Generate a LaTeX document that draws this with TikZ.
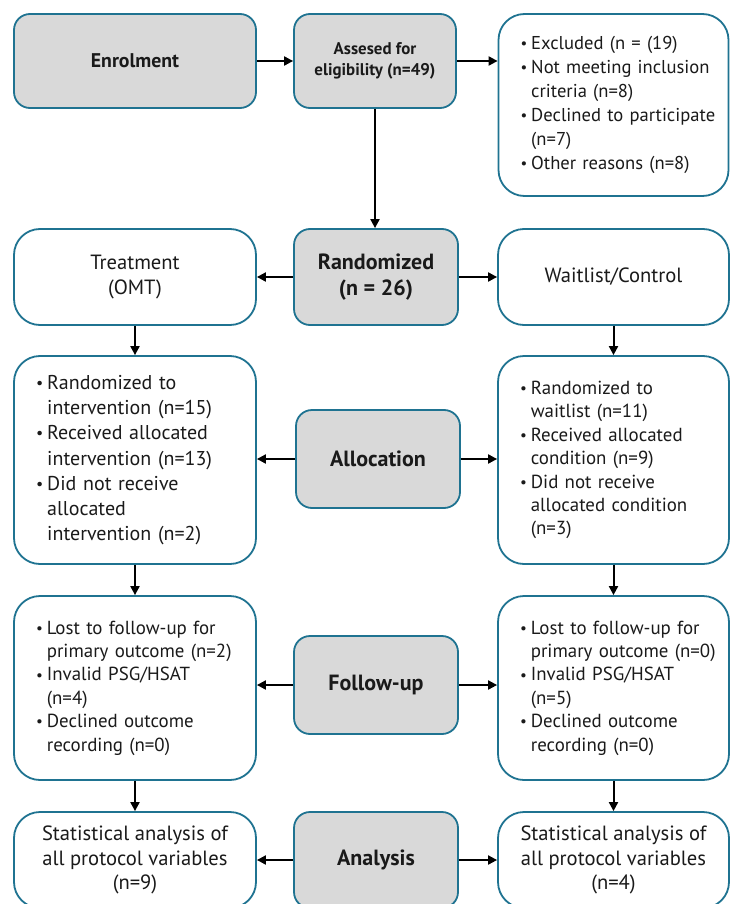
\documentclass[tikz,border=0pt]{standalone}
\usepackage{fontspec}
\setmainfont{PT Sans}
\usetikzlibrary{arrows.meta}
\definecolor{tealb}{HTML}{1F7391}
\definecolor{boxgray}{HTML}{D9D9D9}
\definecolor{txt}{HTML}{1A1A1A}
\newcommand\bul{\raisebox{0.1ex}{\scalebox{0.8}{\textbullet}}}
\begin{document}
\begin{tikzpicture}[x=1pt,y=-1pt,
 box/.style={draw=tealb, line width=1.8pt, text=txt, align=center, inner sep=0pt},
 grayb/.style={box, fill=boxgray, rounded corners=16pt, font=\bfseries\fontsize{22}{26}\selectfont},
 whiteb/.style={box, fill=white, rounded corners=26pt, font=\fontsize{20.6}{25.5}\selectfont},
 listb/.style={whiteb, align=left, inner xsep=22pt},
 arr/.style={-{Triangle[length=9pt,width=9pt]}, line width=2pt, black}]
\useasboundingbox (0,0) rectangle (730,904);
\clip (0,0) rectangle (730,904);
% row 1
\node[grayb, minimum width=242pt, minimum height=94pt, font=\bfseries\fontsize{19.8}{22}\selectfont] (enrol) at (135,61) {Enrolment};
\node[grayb, minimum width=162pt, minimum height=94pt, font=\bfseries\fontsize{16.9}{21}\selectfont] (assess) at (375,61) {Assesed for\\eligibility (n=49)};
\node[listb, text width=186pt, minimum height=182pt, font=\fontsize{18.6}{24}\selectfont] (excl) at (613.5,105) {%
\begin{tabular}{@{}l@{\hspace{4pt}}l@{}}
\bul & Excluded (n = (19)\\
\bul & Not meeting inclusion\\
 & criteria (n=8)\\
\bul & Declined to participate\\
 & (n=7)\\
\bul & Other reasons (n=8)
\end{tabular}};
% row 2
\node[whiteb, minimum width=242pt, minimum height=96pt] (treat) at (135,277) {Treatment\\(OMT)};
\node[grayb, minimum width=164pt, minimum height=96pt] (rand) at (376,277) {Randomized\\(n = 26)};
\node[whiteb, minimum width=231pt, minimum height=96pt] (wait) at (613.5,277) {Waitlist/Control};
% row 3
\node[listb, text width=198pt, minimum height=208pt, font=\fontsize{20}{25.3}\selectfont] (allocL) at (135,460) {%
\begin{tabular}{@{}l@{\hspace{4pt}}l@{}}
\bul & Randomized to\\
 & intervention (n=15)\\
\bul & Received allocated\\
 & intervention (n=13)\\
\bul & Did not receive\\
 & allocated\\
 & intervention (n=2)
\end{tabular}};
\node[grayb, minimum width=164pt, minimum height=98pt] (alloc) at (378,459) {Allocation};
\node[listb, text width=187pt, minimum height=208pt, font=\fontsize{18.9}{23.4}\selectfont] (allocR) at (613.5,460) {%
\begin{tabular}{@{}l@{\hspace{4pt}}l@{}}
\bul & Randomized to\\
 & waitlist (n=11)\\
\bul & Received allocated\\
 & condition (n=9)\\
\bul & Did not receive\\
 & allocated condition\\
 & (n=3)
\end{tabular}};
% row 4
\node[listb, text width=198pt, minimum height=184pt, font=\fontsize{18.9}{23.4}\selectfont] (followL) at (135,688) {%
\begin{tabular}{@{}l@{\hspace{4pt}}l@{}}
\bul & Lost to follow-up for\\
 & primary outcome (n=2)\\
\bul & Invalid PSG/HSAT\\
 & (n=4)\\
\bul & Declined outcome\\
 & recording (n=0)
\end{tabular}};
\node[grayb, minimum width=164pt, minimum height=98pt] (follow) at (376,685) {Follow-up};
\node[listb, text width=187pt, minimum height=184pt, font=\fontsize{18.9}{23.4}\selectfont] (followR) at (613.5,688) {%
\begin{tabular}{@{}l@{\hspace{4pt}}l@{}}
\bul & Lost to follow-up for\\
 & primary outcome (n=0)\\
\bul & Invalid PSG/HSAT\\
 & (n=5)\\
\bul & Declined outcome\\
 & recording (n=0)
\end{tabular}};
% row 5
\node[whiteb, minimum width=242pt, minimum height=96pt, font=\fontsize{20.6}{24.5}\selectfont] (anL) at (135,860) {Statistical analysis of\\all protocol variables\\(n=9)};
\node[grayb, minimum width=164pt, minimum height=96pt] (an) at (376,860) {Analysis};
\node[whiteb, minimum width=231pt, minimum height=96pt, font=\fontsize{20.6}{24.5}\selectfont] (anR) at (613.5,860) {Statistical analysis of\\all protocol variables\\(n=4)};
% connectors
\draw[arr] (enrol) -- (assess);
\draw[arr] (assess.east) -- (assess.east -| excl.west);
\draw[arr] (assess.south) -- (assess.south |- rand.north);
\draw[arr] (rand) -- (treat);
\draw[arr] (rand) -- (wait);
\draw[arr] (treat) -- (allocL);
\draw[arr] (wait) -- (allocR);
\draw[arr] (alloc.west) -- (alloc.west -| allocL.east);
\draw[arr] (alloc.east) -- (alloc.east -| allocR.west);
\draw[arr] (allocL) -- (followL);
\draw[arr] (allocR) -- (followR);
\draw[arr] (follow.west) -- (follow.west -| followL.east);
\draw[arr] (follow.east) -- (follow.east -| followR.west);
\draw[arr] (followL) -- (anL);
\draw[arr] (followR) -- (anR);
\draw[arr] (an) -- (anL);
\draw[arr] (an) -- (anR);
\end{tikzpicture}
\end{document}
